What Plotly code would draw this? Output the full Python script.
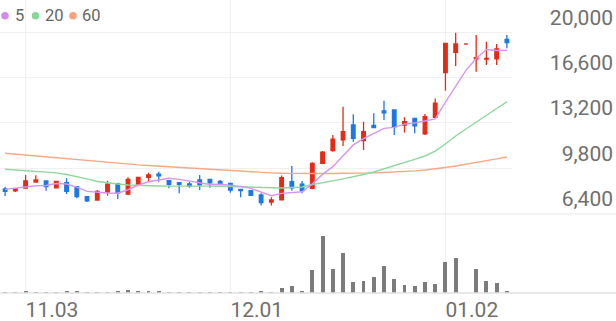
import plotly.graph_objects as go

# ---------------- data ----------------
dates = [
    "2022-11-01", "2022-11-02", "2022-11-03", "2022-11-04",
    "2022-11-07", "2022-11-08", "2022-11-09", "2022-11-10", "2022-11-11",
    "2022-11-14", "2022-11-15", "2022-11-16", "2022-11-17", "2022-11-18",
    "2022-11-21", "2022-11-22", "2022-11-23", "2022-11-24", "2022-11-25",
    "2022-11-28", "2022-11-29", "2022-11-30",
    "2022-12-01", "2022-12-02",
    "2022-12-05", "2022-12-06", "2022-12-07", "2022-12-08", "2022-12-09",
    "2022-12-12", "2022-12-13", "2022-12-14", "2022-12-15", "2022-12-16",
    "2022-12-19", "2022-12-20", "2022-12-21", "2022-12-22", "2022-12-23",
    "2022-12-26", "2022-12-27", "2022-12-28", "2022-12-29",
    "2023-01-02", "2023-01-03", "2023-01-04", "2023-01-05", "2023-01-06",
    "2023-01-09", "2023-01-10",
]

opens = [8240, 8090, 8310, 8760, 8840, 8330, 8710, 8410, 7660, 7410,
         8010, 8610, 7860, 8610, 9110, 9340, 8860, 8710, 8610, 8910,
         8960, 8810, 8660, 8210, 8110, 7790, 7260, 7430, 8780, 8590,
         8290, 10160, 11110, 11910, 13030, 11860, 13010, 14080, 14160, 13030,
         13530, 12360, 13610, 16950, 18480, 19100, 17980, 17960, 17980, 19450]
highs = [8410, 8310, 9290, 9260, 8860, 8840, 9040, 8460, 7710, 8160,
         8860, 8710, 9110, 9160, 9460, 9530, 8910, 8710, 8760, 9290,
         8990, 8910, 8710, 8210, 8160, 7910, 7610, 9250, 9960, 8840,
         10240, 11080, 12280, 14400, 13830, 13280, 13910, 14850, 14210, 13610,
         13530, 13860, 15020, 19150, 19950, 19100, 19780, 19270, 19100, 19780]
lows = [7710, 8010, 8310, 8710, 8110, 8310, 7860, 7540, 7260, 7390,
        7730, 7490, 7790, 8540, 8840, 8780, 8290, 7910, 8330, 8160,
        8330, 8610, 7960, 7610, 7710, 6990, 6990, 7390, 8110, 7910,
        8210, 10090, 11030, 11460, 11780, 11160, 12790, 13410, 12280, 12460,
        12410, 12280, 13600, 15600, 17450, 19100, 17030, 17530, 17530, 18780]
closes = [8060, 8260, 8840, 8910, 8410, 8810, 8060, 7660, 7340, 8060,
          8590, 7940, 8960, 9110, 9290, 9230, 8590, 8590, 8460, 8540,
          8690, 8660, 8160, 8110, 7760, 7210, 7410, 9080, 8330, 8110,
          10160, 10990, 11980, 12530, 12040, 12530, 12830, 13950, 12900, 13280,
          12960, 13650, 14660, 19150, 19100, 19100, 18070, 18030, 18730, 19200]

volumes = [70, 70, 230, 100, 100, 100, 130, 130, 100, 100,
           100, 130, 300, 230, 200, 170, 70, 70, 50, 70,
           50, 50, 50, 50, 50, 230, 100, 530, 700, 200,
           2330, 5700, 2430, 4030, 1130, 1230, 1600, 2700, 1430, 800,
           670, 1130, 930, 3130, 3530, 0, 2430, 1200, 970, 200]

ma5 = [8210, 8290, 8410, 8480, 8500, 8650, 8610, 8370, 8060, 7990,
       7940, 7920, 8180, 8530, 8780, 8910, 9040, 8960, 8830, 8680,
       8570, 8590, 8500, 8430, 8280, 7980, 7730, 7910, 7960, 8030,
       8620, 9330, 9910, 10750, 11540, 12010, 12380, 12780, 12850, 13100,
       13180, 13350, 13490, 14740, 15900, 17130, 18020, 18690, 18610, 18630]
ma20 = [9710, 9660, 9620, 9590, 9510, 9440, 9320, 9170, 8990, 8800,
        8690, 8610, 8540, 8500, 8470, 8460, 8450, 8460, 8450, 8460,
        8450, 8440, 8420, 8390, 8350, 8310, 8310, 8310, 8350, 8390,
        8570, 8690, 8840, 8990, 9140, 9320, 9510, 9740, 9960, 10180,
        10450, 10710, 11080, 11610, 12210, 12730, 13260, 13740, 14270, 14760]
ma60 = [10910, 10840, 10770, 10700, 10630, 10570, 10510, 10450, 10380, 10320,
        10250, 10190, 10090, 10040, 10000, 9950, 9900, 9860, 9810, 9760,
        9710, 9670, 9620, 9570, 9530, 9470, 9440, 9410, 9400, 9390,
        9390, 9390, 9400, 9410, 9410, 9420, 9440, 9470, 9500, 9540,
        9590, 9660, 9740, 9850, 9960, 10080, 10220, 10350, 10490, 10630]

tick_dates = ["2022-11-03", "2022-12-01", "2023-01-02"]
tick_labels = ["11.03", "12.01", "01.02"]
price_ticks = [6400, 9800, 13200, 16600, 20000]
legend_names = ["5", "20", "60"]

# ---------------- style ----------------
W, H = 616, 321
PLOT_H = 293          # plot area height in px (bottom margin 28)
RED = "#e52b17"
BLUE = "#1b78e6"
MA_COLORS = ["#d894ef", "#8fd79b", "#f7a883"]
DOT_COLORS = ["#cf8eee", "#88d598", "#f6a27b"]
TXT = "#6f6f6f"
GRID = "#f0f0f0"
SPLIT = 214 / PLOT_H   # fraction from top where price pane ends
vol_domain_top = 1 - SPLIT

fig = go.Figure()

for vals, col in [(ma60, MA_COLORS[2]), (ma20, MA_COLORS[1]), (ma5, MA_COLORS[0])]:
    fig.add_trace(go.Scatter(x=dates, y=vals, mode="lines",
                             line=dict(color=col, width=1.4),
                             hoverinfo="skip", showlegend=False,
                             xaxis="x", yaxis="y"))

fig.add_trace(go.Candlestick(
    x=dates, open=opens, high=highs, low=lows, close=closes,
    increasing=dict(line=dict(color=RED, width=1.3), fillcolor=RED),
    decreasing=dict(line=dict(color=BLUE, width=1.3), fillcolor=BLUE),
    whiskerwidth=0, showlegend=False, xaxis="x", yaxis="y"))

fig.add_trace(go.Bar(x=dates, y=volumes, marker=dict(color="#7b7b7b", line=dict(width=0)),
                     width=0.38, showlegend=False, xaxis="x", yaxis="y2"))

font_axis = dict(family="Roboto", size=21, color=TXT)

fig.update_layout(
    width=W, height=H,
    margin=dict(l=0, r=0, t=0, b=H - PLOT_H, pad=0),
    paper_bgcolor="white", plot_bgcolor="white",
    showlegend=False, boxgap=0.5, bargap=0,
    xaxis=dict(type="category", range=[-0.5, 49.5], domain=[0, 512 / W],
               anchor="y2", tickvals=tick_dates, ticktext=tick_labels,
               showgrid=True, gridcolor=GRID, gridwidth=1, ticks="",
               ticklabelposition="outside right", ticklabelstandoff=2,
               tickfont=font_axis,
               rangeslider=dict(visible=False), showline=False, zeroline=False),
    yaxis=dict(domain=[vol_domain_top, 1], range=[6362, 22398],
               anchor="free", position=1, side="right",
               tickvals=price_ticks, tickformat=",d",
               ticklabelposition="inside top", ticklabeloverflow="allow",
               showgrid=True, gridcolor=GRID, gridwidth=1,
               zeroline=False, showline=False, ticks="", tickfont=font_axis),
    yaxis2=dict(domain=[0, vol_domain_top], range=[0, 7900], anchor="x",
                showgrid=False, showticklabels=False, zeroline=False, showline=False),
)

# pane separators (full width)
fig.add_shape(type="line", xref="paper", yref="paper", x0=0, x1=1,
              y0=vol_domain_top, y1=vol_domain_top, line=dict(color="#e6e6e6", width=1))
fig.add_shape(type="line", xref="paper", yref="paper", x0=0, x1=1,
              y0=0, y1=0, line=dict(color="#e2e2e2", width=1.5))

# legend: dots + labels
dot_cx = [5, 35.5, 73]
text_x = [14, 44, 80.5]
cy = 15.7
r = 3.8
for name, cx, tx, col in zip(legend_names, dot_cx, text_x, DOT_COLORS):
    fig.add_shape(type="circle", xref="paper", yref="paper",
                  x0=(cx - r) / W, x1=(cx + r) / W,
                  y0=(PLOT_H - cy - r) / PLOT_H, y1=(PLOT_H - cy + r) / PLOT_H,
                  fillcolor=col, line=dict(width=0))
    fig.add_annotation(text=name, xref="paper", yref="paper",
                       x=tx / W, y=(PLOT_H - cy) / PLOT_H,
                       xanchor="left", yanchor="middle", showarrow=False,
                       borderpad=0, font=dict(family="Roboto", size=16.5, color="#666666"))

fig.write_html("out.html")
